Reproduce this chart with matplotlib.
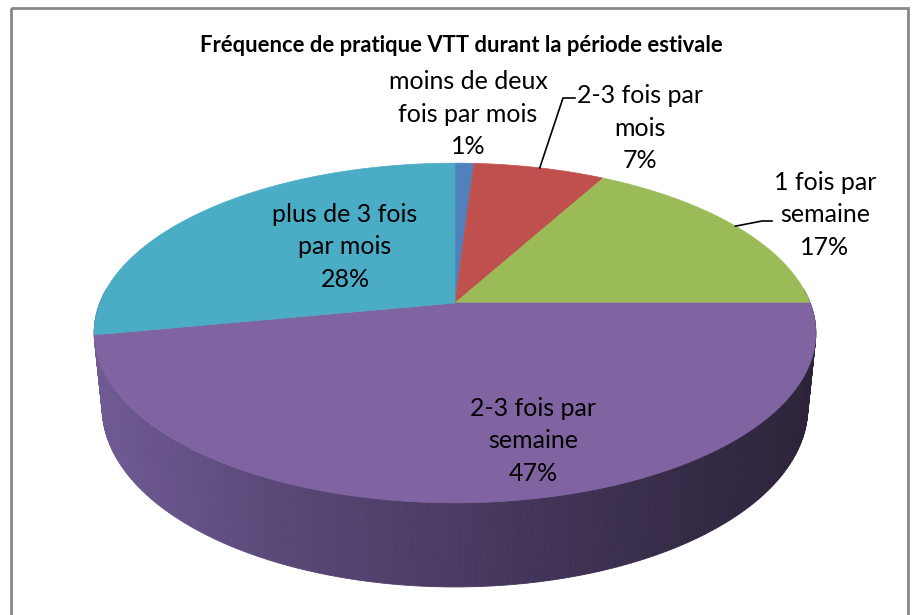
import numpy as np
import matplotlib.pyplot as plt
from matplotlib.patches import Polygon, Rectangle
from matplotlib.colors import LinearSegmentedColormap

# data
categories = ["moins de deux\nfois par mois", "2-3 fois par\nmois", "1 fois par\nsemaine",
              "2-3 fois par\nsemaine", "plus de 3 fois\npar mois"]
values = [1, 7, 17, 47, 28]
colors = ["#4F81BD", "#C0504D", "#9BBB59", "#8064A2", "#4BACC6"]
title = "Fréquence de pratique VTT durant la période estivale"

# label anchor points (pixels) and which labels get a leader line
label_pos = [(468, 114), (640, 128), (825, 215), (533, 441), (345, 247)]
leaders = {1: (563, 98, 575), 2: (762, 221, 772)}

# perspective setup (pixel space)
CX, CY = 455, 303
ELEV = np.radians(27.6)
D = 5.02
F = 1783.0
H = 0.24


def project(theta, h=0.0):
    x = np.cos(theta)
    y = np.sin(theta)
    s, c = np.sin(ELEV), np.cos(ELEV)
    up = y * s + h * c
    depth = D + y * c - h * s
    return CX + F * x / depth, CY - F * up / depth


fig = plt.figure(figsize=(9.13, 6.15), dpi=100)
ax = fig.add_axes([0, 0, 1, 1])
ax.set_xlim(0, 913)
ax.set_ylim(615, 0)
ax.axis("off")

ax.add_patch(Rectangle((11, 8), 897, 615, fill=False, edgecolor="#888888", lw=2))

# side wall with horizontal shading
side_cmap = LinearSegmentedColormap.from_list(
    "side", ["#6F5A94", "#5A4878", "#4A3B62", "#3A2E4D", "#2C2339"])
th = np.linspace(np.radians(175), np.radians(365), 260)
for a0, a1 in zip(th[:-1], th[1:]):
    xs0, ys0 = project(a0)
    xs1, ys1 = project(a1)
    xb1, yb1 = project(a1, -H)
    xb0, yb0 = project(a0, -H)
    t = ((xs0 + xs1) / 2 - 95) / (816 - 95)
    col = side_cmap(np.clip(t, 0, 1))
    ax.add_patch(Polygon([(xs0, ys0), (xs1, ys1), (xb1, yb1), (xb0, yb0)],
                         closed=True, facecolor=col, edgecolor=col, lw=0.6))

# top face
total = sum(values)
start = np.pi / 2
mids = []
for v, col in zip(values, colors):
    sweep = 2 * np.pi * v / total
    a = np.linspace(start, start - sweep, max(int(v * 4), 6))
    px, py = project(a)
    pts = [(CX, CY)] + list(zip(px, py))
    ax.add_patch(Polygon(pts, closed=True, facecolor=col, edgecolor=col, lw=0.5))
    mids.append(start - sweep / 2)
    start -= sweep

# labels
for i, (cat, v) in enumerate(zip(categories, values)):
    x, y = label_pos[i]
    ax.text(x, y, f"{cat}\n{v}%", ha="center", va="center", fontsize=18,
            family="Lato", linespacing=1.5, color="black")

for i, (xk, yk, xe) in leaders.items():
    px, py = project(mids[i])
    ax.plot([px, xk, xe], [py, yk, yk], color="black", lw=1.2)

ax.text(461, 45, title, ha="center", va="center", fontsize=15.8,
        fontweight="bold", family="Lato")

fig.savefig("out.png", dpi=100)
